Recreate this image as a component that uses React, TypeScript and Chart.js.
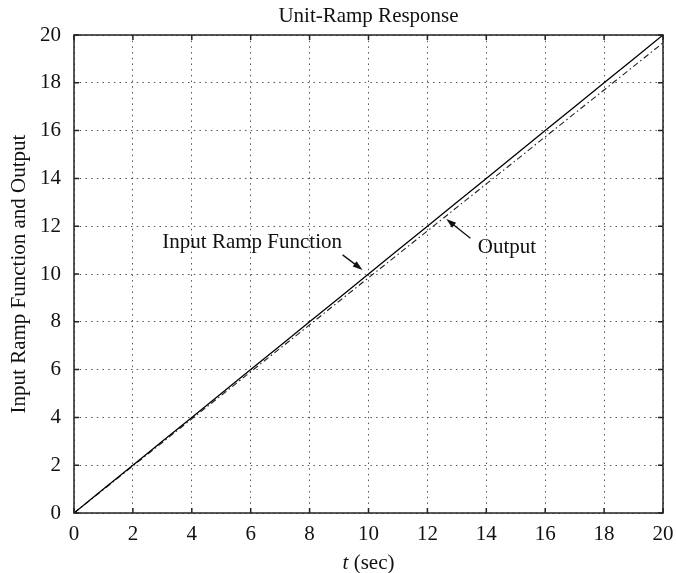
import React, { useEffect, useRef } from 'react';
import { Chart, registerables } from 'chart.js';

Chart.register(...registerables);

const FONT = "'Liberation Serif', 'Times New Roman', Times, serif";

// ---- data ----
const timeSec = [0, 1, 2, 3, 4, 5, 6, 7, 8, 9, 10, 11, 12, 13, 14, 15, 16, 17, 18, 19, 20];
const inputRamp = [0, 1, 2, 3, 4, 5, 6, 7, 8, 9, 10, 11, 12, 13, 14, 15, 16, 17, 18, 19, 20];
const outputResponse = [0, 0.98, 1.97, 2.95, 3.94, 4.92, 5.91, 6.89, 7.87, 8.86, 9.84, 10.82, 11.8, 12.79, 13.77, 14.75, 15.74, 16.72, 17.7, 18.69, 19.67];
const xTickValues = [0, 2, 4, 6, 8, 10, 12, 14, 16, 18, 20];
const yTickValues = [0, 2, 4, 6, 8, 10, 12, 14, 16, 18, 20];

const chartTitle = 'Unit-Ramp Response';
const yAxisTitle = 'Input Ramp Function and Output';
const xAxisTitleItalic = 't';
const xAxisTitleRest = ' (sec)';

// annotation anchors in data units
const inputLabelText = 'Input Ramp Function';
const inputLabelAt = [6.05, 11.3];
const inputArrowFrom = [9.12, 10.8];
const inputArrowTo = [9.8, 10.17];
const outputLabelText = 'Output';
const outputLabelAt = [14.7, 11.09];
const outputArrowFrom = [13.46, 11.5];
const outputArrowTo = [12.64, 12.3];

const FONT_SIZE = 21;

function drawArrow(ctx: CanvasRenderingContext2D, x1: number, y1: number, x2: number, y2: number) {
  const ang = Math.atan2(y2 - y1, x2 - x1);
  const hl = 10;
  const hw = 3.2;
  ctx.beginPath();
  ctx.moveTo(x1, y1);
  ctx.lineTo(x2 - hl * 0.8 * Math.cos(ang), y2 - hl * 0.8 * Math.sin(ang));
  ctx.stroke();
  ctx.beginPath();
  ctx.moveTo(x2, y2);
  ctx.lineTo(x2 - hl * Math.cos(ang) + hw * Math.sin(ang), y2 - hl * Math.sin(ang) - hw * Math.cos(ang));
  ctx.lineTo(x2 - hl * Math.cos(ang) - hw * Math.sin(ang), y2 - hl * Math.sin(ang) + hw * Math.cos(ang));
  ctx.closePath();
  ctx.fill();
}

const framePlugin = {
  id: 'frameAndText',
  afterDatasetsDraw(chart: any) {
    const { ctx, chartArea } = chart;
    const { left, right, top, bottom } = chartArea;
    const xs = chart.scales.x;
    const ys = chart.scales.y;
    ctx.save();
    // frame
    ctx.strokeStyle = '#222';
    ctx.lineWidth = 1.5;
    ctx.strokeRect(left, top, right - left, bottom - top);
    // inner ticks
    const L = 5;
    ctx.beginPath();
    xTickValues.forEach((v) => {
      const px = xs.getPixelForValue(v);
      ctx.moveTo(px, bottom);
      ctx.lineTo(px, bottom - L);
      ctx.moveTo(px, top);
      ctx.lineTo(px, top + L);
    });
    yTickValues.forEach((v) => {
      const py = ys.getPixelForValue(v);
      ctx.moveTo(left, py);
      ctx.lineTo(left + L, py);
      ctx.moveTo(right, py);
      ctx.lineTo(right - L, py);
    });
    ctx.stroke();

    const cx = (left + right) / 2;
    ctx.fillStyle = '#111';
    ctx.textBaseline = 'middle';

    // chart title, centred over the plot box
    ctx.font = `${FONT_SIZE}px ${FONT}`;
    ctx.textAlign = 'center';
    ctx.fillText(chartTitle, cx, top - 19);

    // x axis title
    ctx.font = `italic ${FONT_SIZE}px ${FONT}`;
    const w1 = ctx.measureText(xAxisTitleItalic).width;
    ctx.font = `${FONT_SIZE}px ${FONT}`;
    const w2 = ctx.measureText(xAxisTitleRest).width;
    const ty = bottom + 50;
    const sx = cx - (w1 + w2) / 2;
    ctx.textAlign = 'left';
    ctx.font = `italic ${FONT_SIZE}px ${FONT}`;
    ctx.fillText(xAxisTitleItalic, sx, ty);
    ctx.font = `${FONT_SIZE}px ${FONT}`;
    ctx.fillText(xAxisTitleRest, sx + w1, ty);

    // y axis title
    ctx.save();
    ctx.translate(19, (top + bottom) / 2);
    ctx.rotate(-Math.PI / 2);
    ctx.textAlign = 'center';
    ctx.fillText(yAxisTitle, 0, 0);
    ctx.restore();

    // annotations
    ctx.textAlign = 'center';
    ctx.fillText(inputLabelText, xs.getPixelForValue(inputLabelAt[0]), ys.getPixelForValue(inputLabelAt[1]));
    ctx.fillText(outputLabelText, xs.getPixelForValue(outputLabelAt[0]), ys.getPixelForValue(outputLabelAt[1]));
    ctx.strokeStyle = '#111';
    ctx.lineWidth = 1.3;
    drawArrow(
      ctx,
      xs.getPixelForValue(inputArrowFrom[0]), ys.getPixelForValue(inputArrowFrom[1]),
      xs.getPixelForValue(inputArrowTo[0]), ys.getPixelForValue(inputArrowTo[1])
    );
    drawArrow(
      ctx,
      xs.getPixelForValue(outputArrowFrom[0]), ys.getPixelForValue(outputArrowFrom[1]),
      xs.getPixelForValue(outputArrowTo[0]), ys.getPixelForValue(outputArrowTo[1])
    );
    ctx.restore();
  },
};

export default function App() {
  const canvasRef = useRef<HTMLCanvasElement | null>(null);

  useEffect(() => {
    if (!canvasRef.current) return;
    const chart = new Chart(canvasRef.current, {
      type: 'line',
      data: {
        datasets: [
          {
            label: 'Input Ramp Function',
            data: timeSec.map((t, i) => ({ x: t, y: inputRamp[i] })),
            borderColor: '#000',
            borderWidth: 1.3,
            pointRadius: 0,
            tension: 0,
            fill: false,
          },
          {
            label: 'Output',
            data: timeSec.map((t, i) => ({ x: t, y: outputResponse[i] })),
            borderColor: '#222',
            borderWidth: 1.1,
            borderDash: [6, 3, 1.5, 3],
            pointRadius: 0,
            tension: 0,
            fill: false,
          },
        ],
      },
      options: {
        animation: false,
        responsive: false,
        devicePixelRatio: 1,
        layout: { padding: { left: 0, right: 13, top: 35, bottom: 0 } },
        plugins: {
          legend: { display: false },
          tooltip: { enabled: false },
          title: { display: false },
        },
        scales: {
          x: {
            type: 'linear',
            min: 0,
            max: 20,
            afterFit: (s: any) => {
              s.height = 60;
              s.paddingRight = 0;
              s.paddingLeft = 0;
            },
            afterBuildTicks: (s: any) => {
              s.ticks = xTickValues.map((v) => ({ value: v }));
            },
            ticks: {
              autoSkip: false,
              maxRotation: 0,
              padding: 9,
              color: '#111',
              font: { family: FONT, size: FONT_SIZE },
            },
            grid: {
              color: '#555',
              lineWidth: 1,
              drawTicks: false,
              tickLength: 0,
            },
            border: { display: false, dash: [1.5, 4.2] },
          },
          y: {
            type: 'linear',
            min: 0,
            max: 20,
            afterFit: (s: any) => {
              s.width = 74;
              s.paddingTop = 0;
              s.paddingBottom = 0;
            },
            afterBuildTicks: (s: any) => {
              s.ticks = yTickValues.map((v) => ({ value: v }));
            },
            ticks: {
              autoSkip: false,
              padding: 13,
              color: '#111',
              font: { family: FONT, size: FONT_SIZE },
            },
            grid: {
              color: '#555',
              lineWidth: 1,
              drawTicks: false,
              tickLength: 0,
            },
            border: { display: false, dash: [1.5, 4.2] },
          },
        },
      } as any,
      plugins: [framePlugin],
    });
    return () => chart.destroy();
  }, []);

  return (
    <div style={{ position: 'fixed', left: 0, top: 0, width: 676, height: 573, background: '#fff' }}>
      <canvas ref={canvasRef} width={676} height={573} style={{ display: 'block' }} />
    </div>
  );
}
